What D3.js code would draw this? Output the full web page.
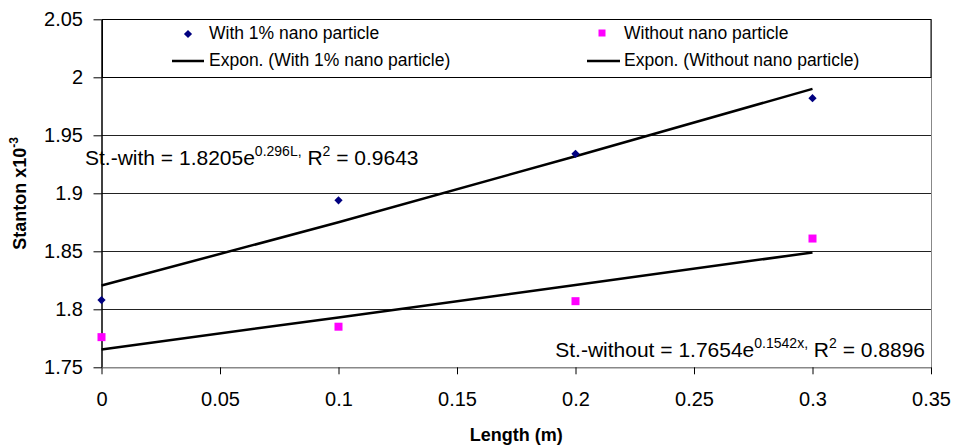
<!DOCTYPE html>
<html>
<head>
<meta charset="utf-8">
<script src="https://cdn.jsdelivr.net/npm/d3@7"></script>
<style>
  body { margin: 0; background: #fff; }
  text { font-family: "Liberation Sans", Arial, sans-serif; fill: #000; }
</style>
</head>
<body>
<div id="chart"></div>
<script>
// data
var lengths = [0, 0.1, 0.2, 0.3];
var stWith = [1.808, 1.894, 1.934, 1.982];
var stWithout = [1.776, 1.785, 1.807, 1.861];
// exponential trend lines, values at the same lengths
var fitWith = [1.8205, 1.875, 1.932, 1.990];
var fitWithout = [1.7654, 1.793, 1.821, 1.849];

var xTicks = [0, 0.05, 0.1, 0.15, 0.2, 0.25, 0.3, 0.35];
var xTickLabels = ["0", "0.05", "0.1", "0.15", "0.2", "0.25", "0.3", "0.35"];
var yTicks = [1.75, 1.8, 1.85, 1.9, 1.95, 2, 2.05];
var yTickLabels = ["1.75", "1.8", "1.85", "1.9", "1.95", "2", "2.05"];

var seriesNames = ["With 1% nano particle", "Without nano particle"];
var trendNames = ["Expon. (With 1% nano particle)", "Expon. (Without nano particle)"];

var svgWidth = 954;
var svgHeight = 445;

var plot = { left: 101.5, right: 931, top: 19.3, bottom: 367.3 };

var svg = d3.select("#chart").append("svg")
  .attr("width", svgWidth)
  .attr("height", svgHeight);

var x = d3.scaleLinear().domain([0, 0.35]).range([plot.left, plot.right]);
var y = d3.scaleLinear().domain([1.75, 2.05]).range([plot.bottom, plot.top]);

// diamond = square turned 45 degrees
var diamond = d3.symbol().type(d3.symbolSquare).size(34);

// gridlines
svg.append("g")
  .selectAll("line")
  .data(yTicks)
  .enter()
  .append("line")
  .attr("x1", plot.left)
  .attr("x2", plot.right)
  .attr("y1", function(d) { return Math.round(y(d)) + 0.5; })
  .attr("y2", function(d) { return Math.round(y(d)) + 0.5; })
  .attr("stroke", "#222")
  .attr("stroke-width", 1);

// right border of plot area
svg.append("line")
  .attr("x1", plot.right + 0.5).attr("x2", plot.right + 0.5)
  .attr("y1", plot.top).attr("y2", plot.bottom)
  .attr("stroke", "#888");

// legend box (sits inside the top band of the plot)
var legend = svg.append("g");
legend.append("rect")
  .attr("x", 102.5)
  .attr("y", Math.round(y(2.05)) + 0.5)
  .attr("width", plot.right - 102.5)
  .attr("height", Math.round(y(2)) - Math.round(y(2.05)))
  .attr("fill", "#fff")
  .attr("stroke", "#000");

var legCols = [{ mark: 188, line: [172, 204], text: 209 }, { mark: 602, line: [587, 620], text: 624 }];

legCols.forEach(function(c, i) {
  if (i === 0) {
    legend.append("path")
      .attr("d", diamond())
      .attr("transform", "translate(" + c.mark + ",34) rotate(45)")
      .attr("fill", "#000080");
  } else {
    legend.append("rect")
      .attr("x", c.mark - 3.5).attr("y", 29.5)
      .attr("width", 7).attr("height", 7)
      .attr("fill", "#ff00ff");
  }
  legend.append("text")
    .attr("x", c.text).attr("y", 38.5)
    .style("font-size", "17.5px")
    .text(seriesNames[i]);
  legend.append("line")
    .attr("x1", c.line[0]).attr("x2", c.line[1])
    .attr("y1", 61).attr("y2", 61)
    .attr("stroke", "#000").attr("stroke-width", 2.5);
  legend.append("text")
    .attr("x", c.text).attr("y", 66)
    .style("font-size", "17.5px")
    .text(trendNames[i]);
});

// axes
var leftAxis = d3.axisLeft(y)
  .tickValues(yTicks)
  .tickSize(8)
  .tickSizeOuter(0)
  .tickPadding(10.5)
  .tickFormat(function(d, i) { return yTickLabels[i]; });

var bottomAxis = d3.axisBottom(x)
  .tickValues(xTicks)
  .tickSize(7)
  .tickSizeOuter(0)
  .tickPadding(18)
  .tickFormat(function(d, i) { return xTickLabels[i]; });

var gy = svg.append("g")
  .attr("transform", "translate(" + plot.left + ",0)")
  .call(leftAxis);
gy.selectAll("text").style("font-size", "20px").style("font-family", "Liberation Sans, Arial, sans-serif");
gy.select(".domain").attr("stroke", "#000").attr("stroke-width", 1.5);

var gx = svg.append("g")
  .attr("transform", "translate(0," + plot.bottom + ")")
  .call(bottomAxis);
gx.selectAll("text").style("font-size", "20px").style("font-family", "Liberation Sans, Arial, sans-serif");
gx.select(".domain").attr("stroke", "#888").attr("stroke-width", 1.5);

// trend lines
var line = d3.line()
  .x(function(d) { return x(d[0]); })
  .y(function(d) { return y(d[1]); });

[fitWith, fitWithout].forEach(function(fit) {
  svg.append("path")
    .datum(d3.zip(lengths, fit))
    .attr("d", line)
    .attr("fill", "none")
    .attr("stroke", "#000")
    .attr("stroke-width", 2.5);
});

// points
svg.append("g")
  .selectAll("path")
  .data(d3.zip(lengths, stWith))
  .enter()
  .append("path")
  .attr("d", diamond())
  .attr("transform", function(d) { return "translate(" + x(d[0]) + "," + y(d[1]) + ") rotate(45)"; })
  .attr("fill", "#000080");

svg.append("g")
  .selectAll("rect")
  .data(d3.zip(lengths, stWithout))
  .enter()
  .append("rect")
  .attr("x", function(d) { return x(d[0]) - 4; })
  .attr("y", function(d) { return y(d[1]) - 4; })
  .attr("width", 8)
  .attr("height", 8)
  .attr("fill", "#ff00ff");

// equations
var eq1 = svg.append("text")
  .attr("x", 85).attr("y", 165)
  .style("font-size", "21px");
eq1.append("tspan").text("St.-with = 1.8205e");
eq1.append("tspan").attr("dy", -9).style("font-size", "14px").text("0.296L,");
eq1.append("tspan").attr("dy", 9).text(" R");
eq1.append("tspan").attr("dy", -9).style("font-size", "14px").text("2");
eq1.append("tspan").attr("dy", 9).text(" = 0.9643");

var eq2 = svg.append("text")
  .attr("x", 925).attr("y", 357)
  .attr("text-anchor", "end")
  .style("font-size", "21px");
eq2.append("tspan").text("St.-without = 1.7654e");
eq2.append("tspan").attr("dy", -9).style("font-size", "14px").text("0.1542x,");
eq2.append("tspan").attr("dy", 9).text(" R");
eq2.append("tspan").attr("dy", -9).style("font-size", "14px").text("2");
eq2.append("tspan").attr("dy", 9).text(" = 0.8896");

// axis titles
svg.append("text")
  .attr("x", (plot.left + plot.right) / 2)
  .attr("y", 441)
  .attr("text-anchor", "middle")
  .style("font-size", "18px")
  .style("font-weight", "bold")
  .text("Length (m)");

var yt = svg.append("text")
  .attr("transform", "translate(26," + ((plot.top + plot.bottom) / 2) + ") rotate(-90)")
  .attr("text-anchor", "middle")
  .style("font-size", "18px")
  .style("font-weight", "bold");
yt.append("tspan").text("Stanton x10");
yt.append("tspan").attr("dy", -8).style("font-size", "12px").text("-3");
</script>
</body>
</html>
